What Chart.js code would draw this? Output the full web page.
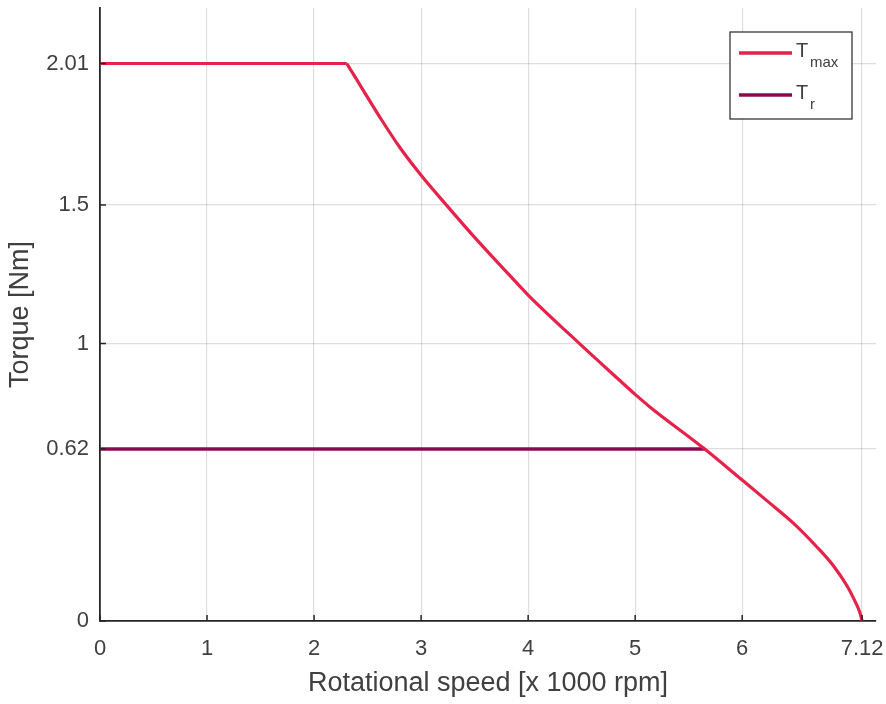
<!DOCTYPE html>
<html>
<head>
<meta charset="utf-8">
<script src="https://cdn.jsdelivr.net/npm/chart.js@4.4.1/dist/chart.umd.min.js"></script>
<style>
  html, body { margin: 0; padding: 0; background: #fff; }
  #wrap { width: 886px; height: 704px; }
</style>
</head>
<body>
<div id="wrap"><canvas id="torqueChart" width="886" height="704"></canvas></div>
<script>
// speed in x 1000 rpm, torque in Nm
var speedMax = [0, 2.305, 2.46, 2.617, 2.80, 3.00, 3.24, 3.50, 3.83, 4.00, 4.48, 4.86, 5.00, 5.14, 5.65, 6.00, 6.23, 6.48, 6.70, 6.85, 6.98, 7.06, 7.10, 7.12];
var torqueMax = [2.01, 2.01, 1.913, 1.815, 1.708, 1.607, 1.498, 1.383, 1.245, 1.175, 1.000, 0.866, 0.817, 0.771, 0.620, 0.508, 0.434, 0.352, 0.266, 0.200, 0.126, 0.066, 0.030, 0];
var speedR = [0, 5.65];
var torqueR = [0.62, 0.62];
var xTicks = [0, 1, 2, 3, 4, 5, 6, 7.12];
var yTicks = [0, 0.62, 1, 1.5, 2.01];

var red = '#E6224B';
var purple = '#8A0A4E';
var textColor = '#404040';
var fontFamily = '"Liberation Sans", Arial, Helvetica, sans-serif';

function toPoints(xs, ys) {
    return xs.map(function (x, i) { return { x: x, y: ys[i] }; });
}

// Tmax is flat up to the knee, then falls; draw the two parts separately
// so the knee stays sharp while the falling part is smoothed
var kneeIndex = 1;
var tmaxFlat = toPoints(speedMax, torqueMax).slice(0, kneeIndex + 1);
var tmaxFall = toPoints(speedMax, torqueMax).slice(kneeIndex);

// short tick marks pointing into the plot, like the original
var innerTicks = {
    id: 'innerTicks',
    afterDatasetsDraw: function (chart) {
        var ctx = chart.ctx, area = chart.chartArea;
        var xs = chart.scales.x, ys = chart.scales.y;
        ctx.save();
        ctx.strokeStyle = '#262626';
        ctx.lineWidth = 1.5;
        ctx.beginPath();
        xTicks.forEach(function (v) {
            var px = xs.getPixelForValue(v);
            ctx.moveTo(px, area.bottom);
            ctx.lineTo(px, area.bottom - 6);
        });
        yTicks.forEach(function (v) {
            var py = ys.getPixelForValue(v);
            ctx.moveTo(area.left, py);
            ctx.lineTo(area.left + 6, py);
        });
        ctx.stroke();
        ctx.restore();
    }
};

// legend box with subscripts
var subLegend = {
    id: 'subLegend',
    afterDraw: function (chart) {
        var ctx = chart.ctx, area = chart.chartArea;
        var bx = area.right - 146, by = area.top + 24, bw = 122, bh = 87;
        ctx.save();
        ctx.fillStyle = '#fff';
        ctx.fillRect(bx, by, bw, bh);
        ctx.strokeStyle = '#262626';
        ctx.lineWidth = 1.2;
        ctx.strokeRect(bx, by, bw, bh);
        var items = [
            { color: red, sub: 'max', y: by + 21 },
            { color: purple, sub: 'r', y: by + 63 }
        ];
        items.forEach(function (it) {
            ctx.strokeStyle = it.color;
            ctx.lineWidth = 3.5;
            ctx.beginPath();
            ctx.moveTo(bx + 9, it.y);
            ctx.lineTo(bx + 62, it.y);
            ctx.stroke();
            ctx.fillStyle = textColor;
            ctx.textBaseline = 'alphabetic';
            ctx.font = '20px ' + fontFamily;
            ctx.fillText('T', bx + 66, it.y + 4);
            ctx.font = '15px ' + fontFamily;
            ctx.fillText(it.sub, bx + 80, it.y + 14);
        });
        ctx.restore();
    }
};

var ctx = document.getElementById('torqueChart').getContext('2d');
var chart = new Chart(ctx, {
    type: 'scatter',
    data: {
        datasets: [
            {
                label: 'Tmax',
                data: tmaxFlat,
                showLine: true,
                borderColor: red,
                backgroundColor: red,
                borderWidth: 3.2,
                pointRadius: 0,
                tension: 0,
                order: 1
            },
            {
                label: 'Tmax (falling)',
                data: tmaxFall,
                showLine: true,
                borderColor: red,
                backgroundColor: red,
                borderWidth: 3.2,
                pointRadius: 0,
                cubicInterpolationMode: 'monotone',
                order: 1
            },
            {
                label: 'Tr',
                data: toPoints(speedR, torqueR),
                showLine: true,
                borderColor: purple,
                backgroundColor: purple,
                borderWidth: 3.5,
                pointRadius: 0,
                order: 2
            }
        ]
    },
    options: {
        responsive: false,
        animation: false,
        layout: { padding: { top: 8, right: 10, left: 0, bottom: 0 } },
        plugins: {
            legend: { display: false },
            tooltip: { enabled: false }
        },
        scales: {
            x: {
                type: 'linear',
                min: 0,
                max: 7.25,
                afterBuildTicks: function (scale) {
                    scale.ticks = xTicks.map(function (v) { return { value: v }; });
                },
                afterFit: function (scale) {
                    scale.height = 83;
                    scale.paddingLeft = 0;
                    scale.paddingRight = 0;
                },
                ticks: {
                    color: textColor,
                    font: { family: fontFamily, size: 22 },
                    padding: 15,
                    maxRotation: 0,
                    callback: function (v) { return String(v); }
                },
                grid: {
                    color: 'rgba(0,0,0,0.13)',
                    lineWidth: 1.2,
                    drawTicks: false
                },
                border: { color: '#262626', width: 1.8 },
                title: {
                    display: true,
                    text: 'Rotational speed [x 1000 rpm]',
                    color: textColor,
                    font: { family: fontFamily, size: 27 },
                    padding: { top: 0 }
                }
            },
            y: {
                type: 'linear',
                min: 0,
                max: 2.21,
                afterBuildTicks: function (scale) {
                    scale.ticks = yTicks.map(function (v) { return { value: v }; });
                },
                afterFit: function (scale) {
                    scale.width = 100;
                    scale.paddingTop = 0;
                    scale.paddingBottom = 0;
                },
                ticks: {
                    color: textColor,
                    font: { family: fontFamily, size: 22 },
                    padding: 11,
                    callback: function (v) { return String(v); }
                },
                grid: {
                    color: 'rgba(0,0,0,0.13)',
                    lineWidth: 1.2,
                    drawTicks: false
                },
                border: { color: '#262626', width: 1.8 },
                title: {
                    display: true,
                    text: 'Torque [Nm]',
                    color: textColor,
                    font: { family: fontFamily, size: 27 },
                    padding: { bottom: 2 }
                }
            }
        }
    },
    plugins: [innerTicks, subLegend]
});
</script>
</body>
</html>
